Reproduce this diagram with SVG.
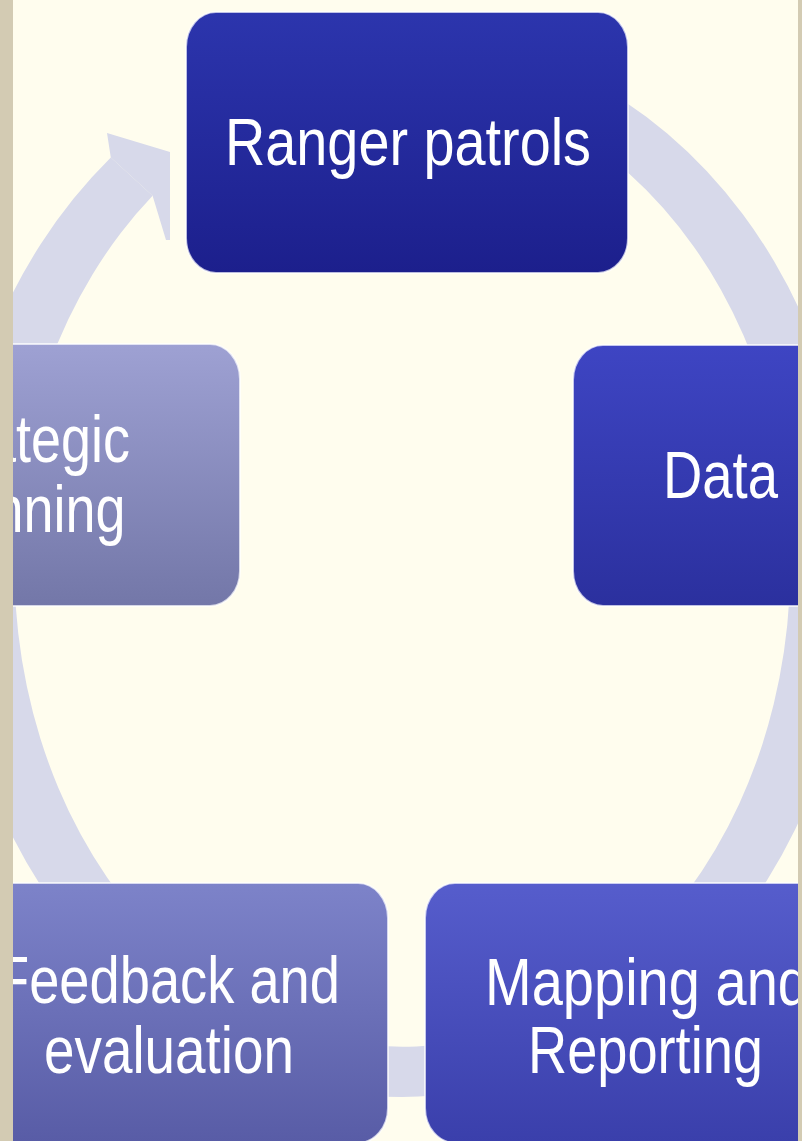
<svg xmlns="http://www.w3.org/2000/svg" width="802" height="1141" viewBox="0 0 802 1141">
  <defs>
    <linearGradient id="gRanger" x1="0" y1="0" x2="0" y2="1">
      <stop offset="0" stop-color="#2c35ad"/>
      <stop offset="1" stop-color="#1c1f8c"/>
    </linearGradient>
    <linearGradient id="gData" x1="0" y1="0" x2="0" y2="1">
      <stop offset="0" stop-color="#3e45c3"/>
      <stop offset="1" stop-color="#2b309e"/>
    </linearGradient>
    <linearGradient id="gMapping" x1="0" y1="0" x2="0" y2="1">
      <stop offset="0" stop-color="#565dcc"/>
      <stop offset="1" stop-color="#3a3fab"/>
    </linearGradient>
    <linearGradient id="gFeedback" x1="0" y1="0" x2="0" y2="1">
      <stop offset="0" stop-color="#7d83c9"/>
      <stop offset="1" stop-color="#585ca6"/>
    </linearGradient>
    <linearGradient id="gStrategic" x1="0" y1="0" x2="0" y2="1">
      <stop offset="0" stop-color="#9ea1d3"/>
      <stop offset="1" stop-color="#7377a8"/>
    </linearGradient>
  </defs>
  <style>
    .box { stroke: #ffffff; stroke-opacity: 0.7; stroke-width: 2; }
    .label { font-family: "Liberation Sans", Arial, sans-serif; font-size: 66px; fill: #ffffff; text-anchor: middle; }
    .ring { fill: #d7d9ea; }
    .strip { fill: #d3cbb3; }
  </style>

  <!-- page background -->
  <rect x="0" y="0" width="802" height="1141" fill="#fffdee"/>

  <!-- cycle ring with arrowhead -->
  <g id="connectors">
    <path class="ring" d="M480.7 41 A453 532 0 1 1 110.8 157.5 L152.6 195.8 A388 482 0 1 0 469.4 90 Z"/>
    <polygon class="ring" points="110.8,157.5 107,133 170,152 170,240 166,240 152.6,195.8"/>
  </g>

  <g id="node-ranger">
    <rect class="box" x="186" y="12" width="442" height="261" rx="30" ry="35" fill="url(#gRanger)"/>
    <text class="label" x="408" y="165" textLength="366" lengthAdjust="spacingAndGlyphs">Ranger patrols</text>
  </g>

  <g id="node-data">
    <rect class="box" x="573" y="345" width="300" height="261" rx="30" ry="35" fill="url(#gData)"/>
    <text class="label" x="720.5" y="498" textLength="115" lengthAdjust="spacingAndGlyphs">Data</text>
  </g>

  <g id="node-mapping">
    <rect class="box" x="425" y="883" width="441" height="260" rx="30" ry="35" fill="url(#gMapping)"/>
    <text class="label" x="647" y="1005" textLength="324" lengthAdjust="spacingAndGlyphs">Mapping and</text>
    <text class="label" x="645.5" y="1073" textLength="235" lengthAdjust="spacingAndGlyphs">Reporting</text>
  </g>

  <g id="node-feedback">
    <rect class="box" x="-53" y="883" width="441" height="260" rx="30" ry="35" fill="url(#gFeedback)"/>
    <text class="label" x="168" y="1003" textLength="344" lengthAdjust="spacingAndGlyphs">Feedback and</text>
    <text class="label" x="169" y="1073" textLength="250" lengthAdjust="spacingAndGlyphs">evaluation</text>
  </g>

  <g id="node-strategic">
    <rect class="box" x="-195" y="344" width="435" height="262" rx="30" ry="35" fill="url(#gStrategic)"/>
    <text class="label" x="23.5" y="462" textLength="213" lengthAdjust="spacingAndGlyphs">Strategic</text>
    <text class="label" x="23.5" y="532" textLength="204" lengthAdjust="spacingAndGlyphs">planning</text>
  </g>

  <!-- window frame edges -->
  <rect class="strip" x="0" y="0" width="13" height="1141"/>
  <rect class="strip" x="798" y="0" width="4" height="1141"/>
</svg>
